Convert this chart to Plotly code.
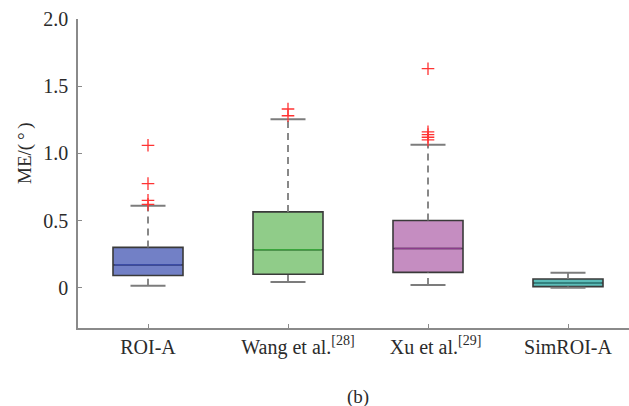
import plotly.graph_objects as go

# ---- data ----
categories = ["ROI-A", "\u2002\u2002Wang et al.<sup>[28]</sup>", "\u2002\u00a0Xu et al.<sup>[29]</sup>", "SimROI-A"]
q1 = [0.091, 0.100, 0.114, 0.008]
median = [0.170, 0.282, 0.292, 0.035]
q3 = [0.300, 0.564, 0.500, 0.065]
lower_whisker = [0.015, 0.042, 0.020, 0.000]
upper_whisker = [0.610, 1.253, 1.064, 0.112]
outliers = [
    [1.06, 0.775, 0.65, 0.62],
    [1.33, 1.28],
    [1.63, 1.16, 1.14, 1.12, 1.10],
    [],
]
fill_colors = ["#7280c6", "#90cc89", "#c58dc1", "#5cbdb9"]
median_colors = ["#3c4ca6", "#3aa53c", "#8c3c8c", "#2f8f8b"]
y_tickvals = [0, 0.5, 1.0, 1.5, 2.0]
y_ticktext = ["0", "0.5", "1.0", "1.5", "2.0"]

positions = [1, 2, 3, 4]
box_w = 0.5
cap_w = 0.25

SERIF = "Liberation Serif"

fig = go.Figure()

for i, p in enumerate(positions):
    fig.add_trace(go.Scatter(
        x=[p, p, None, p, p], y=[q3[i], upper_whisker[i], None, lower_whisker[i], q1[i]],
        mode="lines", line=dict(color="#7c7c7c", width=1.8, dash="7px,5px"),
        showlegend=False, hoverinfo="skip"))
    fig.add_trace(go.Scatter(
        x=[p - cap_w / 2, p + cap_w / 2, None, p - cap_w / 2, p + cap_w / 2],
        y=[upper_whisker[i], upper_whisker[i], None, lower_whisker[i], lower_whisker[i]],
        mode="lines", line=dict(color="#7c7c7c", width=2),
        showlegend=False, hoverinfo="skip"))

for i, p in enumerate(positions):
    fig.add_trace(go.Box(
        x=[p], q1=[q1[i]], median=[median[i]], q3=[q3[i]],
        lowerfence=[q1[i]], upperfence=[q3[i]],
        width=box_w, fillcolor=fill_colors[i],
        line=dict(color="#3a3a3a", width=1.6),
        showlegend=False, hoverinfo="skip", boxpoints=False))

for i, p in enumerate(positions):
    fig.add_trace(go.Scatter(
        x=[p - box_w / 2 + 0.01, p + box_w / 2 - 0.01], y=[median[i], median[i]],
        mode="lines", line=dict(color=median_colors[i], width=1.6),
        showlegend=False, hoverinfo="skip"))

for i, p in enumerate(positions):
    if outliers[i]:
        fig.add_trace(go.Scatter(
            x=[p] * len(outliers[i]), y=outliers[i], mode="markers",
            marker=dict(symbol="cross-thin", size=9,
                        line=dict(color="#ff3333", width=1.3)),
            showlegend=False, hoverinfo="skip"))

W, H = 629, 406
L, R, T, B = 78, 0, 19, 78
plot_w = W - L - R
plot_h = H - T - B
px_per_unit = 140

fig.update_layout(
    width=W, height=H,
    margin=dict(l=L, r=R, t=T, b=B),
    paper_bgcolor="white", plot_bgcolor="white",
    font=dict(family=SERIF, size=20, color="#2b2b2b"),
    xaxis=dict(
        range=[0.5, 0.5 + plot_w / px_per_unit],
        tickvals=positions, ticktext=categories,
        showline=True, linecolor="#8a8a8a", linewidth=1.5,
        ticks="inside", ticklen=4, tickcolor="#8a8a8a", tickwidth=1.2,
        showgrid=False, zeroline=False,
        tickfont=dict(family=SERIF, size=20, color="#2b2b2b"),
    ),
    yaxis=dict(
        range=[-0.3, 2.0],
        tickvals=y_tickvals, ticktext=y_ticktext,
        showline=True, linecolor="#8a8a8a", linewidth=1.5,
        ticks="inside", ticklen=4, tickcolor="#8a8a8a", tickwidth=1.2,
        showgrid=False, zeroline=False,
        ticklabelstandoff=4,
        tickfont=dict(family=SERIF, size=20, color="#2b2b2b"),
    ),
    annotations=[
        dict(text="ME/(\u2009°\u2009)", textangle=-90, xref="paper", yref="paper",
             x=(25 - L) / plot_w, y=(T + plot_h - 153) / plot_h,
             showarrow=False, xanchor="center", yanchor="middle",
             font=dict(family=SERIF, size=19, color="#2b2b2b")),
        dict(text="(b)", xref="paper", yref="paper",
             x=(358 - L) / plot_w, y=(T + plot_h - 397) / plot_h,
             showarrow=False, xanchor="center", yanchor="middle",
             font=dict(family=SERIF, size=19, color="#2b2b2b")),
    ],
)

fig.write_html("out.html")
